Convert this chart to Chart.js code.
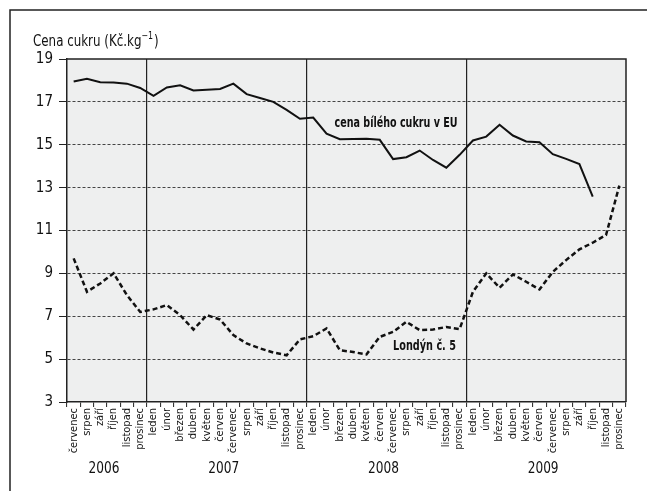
<!DOCTYPE html>
<html>
<head>
<meta charset="utf-8">
<script src="https://cdn.jsdelivr.net/npm/chart.js@4.4.0/dist/chart.umd.min.js"></script>
<style>
html,body{margin:0;padding:0;background:#fff;}
#wrap{position:relative;width:647px;height:491px;}
</style>
</head>
<body>
<div id="wrap"><canvas id="c" width="647" height="491"></canvas></div>
<script>
const months = [
  "červenec","srpen","září","říjen","listopad","prosinec",
  "leden","únor","březen","duben","květen","červen","červenec","srpen","září","říjen","listopad","prosinec",
  "leden","únor","březen","duben","květen","červen","červenec","srpen","září","říjen","listopad","prosinec",
  "leden","únor","březen","duben","květen","červen","červenec","srpen","září","říjen","listopad","prosinec"
];
const years = ["2006","2007","2008","2009"];
const yearStart = [0, 6, 18, 30];
const yearEnd = [5, 17, 29, 41];
const euPrice = [
  17.95,18.08,17.92,17.90,17.85,17.65,
  17.28,17.67,17.77,17.53,17.56,17.60,17.85,17.36,17.18,17.00,16.63,16.21,
  16.27,15.52,15.26,15.27,15.28,15.23,14.33,14.42,14.73,14.29,13.93,14.53,
  15.20,15.38,15.93,15.43,15.15,15.12,14.56,14.34,14.10,12.58,null,null
];
const londonPrice = [
  9.70,8.14,8.53,9.00,7.99,7.20,
  7.32,7.52,7.05,6.38,7.05,6.85,6.12,5.73,5.50,5.31,5.18,5.92,
  6.07,6.43,5.42,5.33,5.22,6.04,6.27,6.74,6.35,6.38,6.50,6.40,
  8.14,9.00,8.33,8.95,8.61,8.25,9.07,9.62,10.12,10.43,10.79,13.09
];
const yTicks = [3,5,7,9,11,13,15,17,19];
const titleMain = "Cena cukru (Kč.kg";
const titleSup = "−1";
const titleEnd = ")";
const euLabel = "cena bílého cukru v EU";
const londonLabel = "Londýn č. 5";

const NARROW = "'Liberation Sans Narrow','Arial Narrow','DejaVu Sans Condensed','Liberation Sans',sans-serif";
const yearBoundaries = yearStart.slice(1);

function squeezedText(ctx, text, x, y, sx) {
  ctx.save();
  ctx.translate(x, y);
  ctx.scale(sx, 1);
  ctx.fillText(text, 0, 0);
  ctx.restore();
  return ctx.measureText(text).width * sx;
}

const decor = {
  id: 'decor',
  beforeDraw(chart) {
    const {ctx, chartArea: a} = chart;
    ctx.save();
    ctx.fillStyle = '#eeefef';
    ctx.fillRect(a.left, a.top, a.right - a.left, a.bottom - a.top);
    ctx.restore();
  },
  afterDraw(chart) {
    const {ctx, chartArea: a, scales: {x, y}} = chart;
    ctx.save();
    // outer frame
    ctx.strokeStyle = '#222';
    ctx.lineWidth = 1.5;
    ctx.beginPath();
    ctx.moveTo(10, 491); ctx.lineTo(10, 10); ctx.lineTo(647, 10);
    ctx.stroke();
    // plot frame top & right
    ctx.beginPath();
    ctx.moveTo(a.left, a.top); ctx.lineTo(a.right, a.top); ctx.lineTo(a.right, a.bottom);
    ctx.stroke();
    // title
    ctx.fillStyle = '#111';
    ctx.textBaseline = 'alphabetic';
    ctx.textAlign = 'left';
    const sq = 0.88;
    ctx.font = "15px " + NARROW;
    let tx = 33;
    tx += squeezedText(ctx, titleMain, tx, 46, sq);
    ctx.font = "10px " + NARROW;
    tx += squeezedText(ctx, titleSup, tx, 39, sq) + 1;
    ctx.font = "15px " + NARROW;
    squeezedText(ctx, titleEnd, tx, 46, sq);
    // year labels
    ctx.font = "15px " + NARROW;
    ctx.textAlign = 'center';
    ctx.textBaseline = 'middle';
    years.forEach((yr, i) => {
      const cx = (x.getPixelForValue(yearStart[i]) + x.getPixelForValue(yearEnd[i])) / 2;
      squeezedText(ctx, yr, cx - 3, 469, 0.9);
    });
    // series annotations
    ctx.font = "bold 14px " + NARROW;
    ctx.textAlign = 'left';
    squeezedText(ctx, euLabel, x.getPixelForValue(19.6), y.getPixelForValue(16.0), 0.76);
    squeezedText(ctx, londonLabel, x.getPixelForValue(24.0), y.getPixelForValue(5.58), 0.77);
    ctx.restore();
  }
};

new Chart(document.getElementById('c'), {
  type: 'line',
  data: {
    labels: months,
    datasets: [
      {
        label: euLabel,
        data: euPrice,
        borderColor: '#111',
        borderWidth: 2,
        pointRadius: 0,
        tension: 0,
        fill: false,
        spanGaps: false
      },
      {
        label: londonLabel,
        data: londonPrice,
        borderColor: '#111',
        borderWidth: 2.5,
        borderDash: [5, 3],
        pointRadius: 0,
        tension: 0,
        fill: false
      }
    ]
  },
  options: {
    responsive: false,
    animation: false,
    devicePixelRatio: 1,
    layout: {padding: {left: 0, top: 59, right: 21, bottom: 0}},
    plugins: {legend: {display: false}, tooltip: {enabled: false}, title: {display: false}},
    scales: {
      x: {
        type: 'category',
        offset: true,
        afterFit(s) { s.height = 89; },
        grid: {
          offset: true,
          drawOnChartArea: true,
          color: (c) => yearBoundaries.includes(c.index) ? '#222' : 'rgba(0,0,0,0)',
          lineWidth: 1.2,
          tickLength: 5,
          tickColor: '#222',
          tickWidth: 1
        },
        border: {display: true, color: '#222', width: 1.5},
        ticks: {
          autoSkip: false,
          minRotation: 90,
          maxRotation: 90,
          padding: 1,
          color: '#111',
          font: {family: NARROW, size: 11}
        }
      },
      y: {
        min: 3,
        max: 19,
        afterFit(s) { s.width = 67; },
        afterBuildTicks(s) { s.ticks = yTicks.map(v => ({value: v})); },
        grid: {
          color: (c) => (c.tick && (c.tick.value === 3 || c.tick.value === 19)) ? 'rgba(0,0,0,0)' : '#444',
          lineWidth: 1,
          tickLength: 8,
          tickColor: '#222',
          tickBorderDash: [],
          tickWidth: 1
        },
        border: {display: true, color: '#222', width: 1.5, dash: [3, 2]},
        ticks: {
          padding: 6,
          color: '#111',
          font: {family: NARROW, size: 15}
        }
      }
    }
  },
  plugins: [decor]
});
</script>
</body>
</html>
